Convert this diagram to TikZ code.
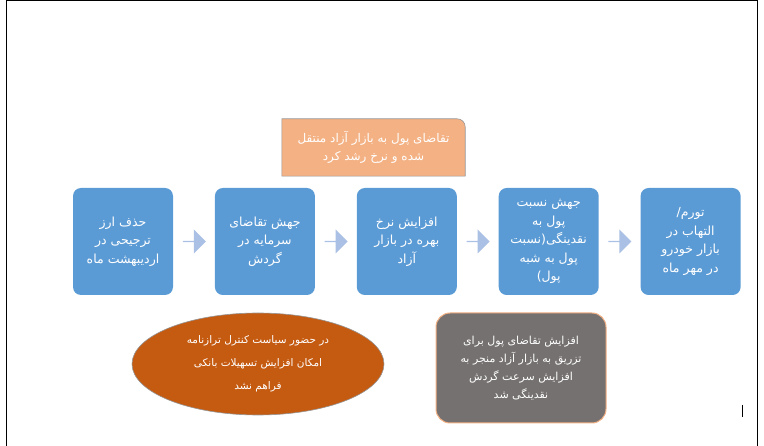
\documentclass[tikz,border=0pt]{standalone}
\usepackage{fontspec}
\newfontfamily\farsifont[Script=Arabic]{DejaVu Sans}
\TeXXeTstate=1
\newcommand{\fa}[1]{\beginR #1\endR}
\definecolor{boxblue}{RGB}{91, 155, 213}
\definecolor{arrowblue}{RGB}{170, 192, 228}
\definecolor{notepeach}{RGB}{244, 177, 131}
\definecolor{rustorange}{RGB}{197, 90, 17}
\definecolor{slategray}{RGB}{118, 113, 113}
\definecolor{framegray}{RGB}{150, 150, 150}
\usetikzlibrary{
  backgrounds,
  calc,
  positioning,
  shapes.arrows,
  shapes.geometric,
}
\tikzset{
  causebox/.style={rectangle,rounded corners=8pt,fill=boxblue,text=white,
    minimum width=100,minimum height=107,align=center,inner sep=2pt,
    font=\farsifont\fontsize{12.5}{18.5}\selectfont},
  flowarrow/.style={single arrow,fill=arrowblue,minimum width=24,
    minimum height=23,single arrow head extend=3.5pt,inner sep=0pt},
  whitetext/.style={text=white,align=center},
}

\begin{document}
\begin{tikzpicture}[x=1pt,y=-1pt,node distance=0mm and 41.5pt]
  \useasboundingbox (0,0) rectangle (764,446);
  % page frame
  \draw[line width=1pt] (6,446) -- (6,1) -- (757,1) -- (757,446);

  % chain of causes
  \node[causebox] (b1) at (123,241.5)
    {\fa{حذف ارز}\\\fa{ترجیحی در}\\\fa{اردیبهشت ماه}};
  \node[causebox] (b2) [right=of b1]
    {\fa{جهش تقاضای}\\\fa{سرمایه در}\\\fa{گردش}};
  \node[causebox] (b3) [right=of b2]
    {\fa{افزایش نرخ}\\\fa{بهره در بازار}\\\fa{آزاد}};
  \node[causebox] (b4) [right=of b3]
    {\fa{جهش نسبت}\\\fa{پول به}\\\fa{نقدینگی(نسبت}\\\fa{پول به شبه}\\\fa{پول)}};
  \node[causebox] (b5) [right=of b4]
    {\fa{تورم/}\\\fa{التهاب در}\\\fa{بازار خودرو}\\\fa{در مهر ماه}};

  \node[flowarrow] (a1) at ($(b1.east)!.5!(b2.west)$) {};
  \node[flowarrow] (a2) at ($(b2.east)!.5!(b3.west)$) {};
  \node[flowarrow] (a3) at ($(b3.east)!.5!(b4.west)$) {};
  \node[flowarrow] (a4) at ($(b4.east)!.5!(b5.west)$) {};

  % notes
  \node[whitetext,minimum width=183,minimum height=57,
    font=\farsifont\fontsize{12}{18}\selectfont] (shift) at (373.5,147.5)
    {\fa{تقاضای پول به بازار آزاد منتقل}\\\fa{شده و نرخ رشد کرد}};
  \begin{scope}[on background layer]
    \filldraw[fill=notepeach,draw=framegray,line width=0.6pt]
      (shift.south west) -- (shift.north west)
      [rounded corners=8pt] -- (shift.north east)
      [sharp corners] -- (shift.south east) -- cycle;
  \end{scope}

  \node[ellipse,fill=rustorange,draw=framegray,line width=0.6pt,
    minimum width=252,minimum height=102,whitetext,
    font=\farsifont\fontsize{10.5}{23}\selectfont] (credit) at (258,364)
    {\fa{در حضور سیاست کنترل ترازنامه}\\\fa{امکان افزایش تسهیلات بانکی}\\\fa{فراهم نشد}};

  \node[rectangle,rounded corners=14pt,fill=slategray,draw=notepeach,line width=1pt,
    minimum width=170,minimum height=110,whitetext,
    font=\farsifont\fontsize{11}{18}\selectfont] (speed) at (521,368)
    {\fa{افزایش تقاضای پول برای}\\\fa{تزریق به بازار آزاد منجر به}\\\fa{افزایش سرعت گردش}\\\fa{نقدینگی شد}};

  % cursor mark
  \draw[line width=0.8pt] (742,405) -- (742,417);
\end{tikzpicture}
\end{document}
